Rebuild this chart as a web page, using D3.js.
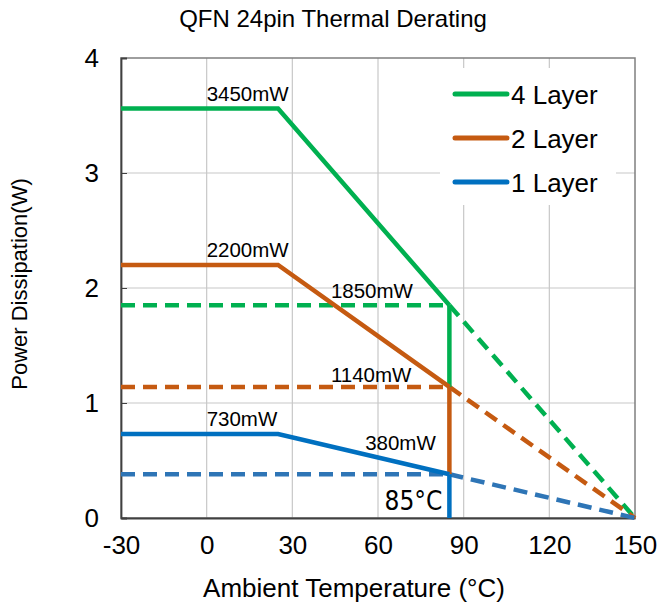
<!DOCTYPE html>
<html>
<head>
<meta charset="utf-8">
<script src="https://cdn.jsdelivr.net/npm/d3@7"></script>
<style>
  body { margin: 0; background: #fff; }
  text { font-family: "Liberation Sans", Arial, sans-serif; fill: #000; }
</style>
</head>
<body>
<div id="chart"></div>
<script>
// derating curves: temperature (C) -> power (W)
var layers = ["4 Layer", "2 Layer", "1 Layer"];
var colors = ["#00b050", "#c55a11", "#0070c0"];
var dashColors = ["#00b050", "#c55a11", "#2e75b6"];
var flatPower = [3.56, 2.2, 0.73];     // power below knee
var kneeTemp = 25;
var limitTemp = 85;
var limitPower = [1.85, 1.14, 0.38];   // power at 85C
var zeroTemp = 150;
var xTicks = [-30, 0, 30, 60, 90, 120, 150];
var yTicks = [0, 1, 2, 3, 4];
var flatLabels = ["3450mW", "2200mW", "730mW"];
var limitLabels = ["1850mW", "1140mW", "380mW"];

var svg = d3.select("#chart").append("svg")
    .attr("width", 663)
    .attr("height", 610);

var x = d3.scaleLinear().domain([-30, 150]).range([121, 635]);
var y = d3.scaleLinear().domain([0, 4]).range([518, 58]);

// grid
svg.append("g").selectAll("line")
    .data(xTicks.slice(1, -1)).enter().append("line")
    .attr("x1", d => x(d)).attr("x2", d => x(d))
    .attr("y1", y(0)).attr("y2", y(4))
    .attr("stroke", "#c8c8c8").attr("stroke-width", 1.2);
svg.append("g").selectAll("line")
    .data(yTicks.slice(1, -1)).enter().append("line")
    .attr("x1", x(-30)).attr("x2", x(150))
    .attr("y1", d => y(d)).attr("y2", d => y(d))
    .attr("stroke", "#c8c8c8").attr("stroke-width", 1.2);

// frame
svg.append("rect")
    .attr("x", x(-30)).attr("y", y(4))
    .attr("width", x(150) - x(-30)).attr("height", y(0) - y(4))
    .attr("fill", "none").attr("stroke", "#7f7f7f").attr("stroke-width", 1.5);

// axes
var xAxis = svg.append("g")
    .attr("transform", "translate(0," + y(0) + ")")
    .call(d3.axisBottom(x).tickValues(xTicks).tickFormat(d => String(d))
        .tickSize(0).tickPadding(18));
var yAxis = svg.append("g")
    .attr("transform", "translate(" + x(-30) + ",0)")
    .call(d3.axisLeft(y).tickValues(yTicks).tickFormat(d => String(d))
        .tickSize(-6).tickPadding(22));
[xAxis, yAxis].forEach(function(a) {
    a.select(".domain").attr("stroke", "#404040").attr("stroke-width", 1.8);
    a.selectAll(".tick line").attr("stroke", "#404040");
    a.selectAll("text").style("font-size", "26px")
        .style("font-family", "'Liberation Sans', Arial, sans-serif");
});

var line = d3.line().x(d => x(d[0])).y(d => y(d[1]));

layers.forEach(function(name, i) {
    // dashed guide at 85C level and dashed continuation to 150C
    svg.append("path")
        .attr("d", line([[-30, limitPower[i]], [limitTemp, limitPower[i]]]))
        .attr("fill", "none").attr("stroke", dashColors[i])
        .attr("stroke-width", 4.5).attr("stroke-dasharray", "14,8");
    svg.append("path")
        .attr("d", line([[limitTemp, limitPower[i]], [zeroTemp, 0]]))
        .attr("fill", "none").attr("stroke", dashColors[i])
        .attr("stroke-width", 4.5).attr("stroke-dasharray", "14,8");
});

layers.forEach(function(name, i) {
    // solid curve
    svg.append("path")
        .attr("d", line([[-30, flatPower[i]], [kneeTemp, flatPower[i]], [limitTemp, limitPower[i]]]))
        .attr("fill", "none").attr("stroke", colors[i])
        .attr("stroke-width", 4.5).attr("stroke-linejoin", "miter");
    // vertical drop at 85C
    var lower = i < layers.length - 1 ? limitPower[i + 1] : 0;
    svg.append("path")
        .attr("d", line([[limitTemp, limitPower[i]], [limitTemp, lower]]))
        .attr("fill", "none").attr("stroke", colors[i])
        .attr("stroke-width", 4.5);
});

// value labels
var labelStyle = function(t) { t.style("font-size", "20.5px"); };
flatLabels.forEach(function(t, i) {
    svg.append("text").attr("x", x(0)).attr("y", y(flatPower[i]) - 8)
        .text(t).call(labelStyle);
});
var limitLabelX = [43.5, 43.5, 55.5];
var limitLabelDy = [-7, -5, -24];
limitLabels.forEach(function(t, i) {
    svg.append("text").attr("x", x(limitLabelX[i])).attr("y", y(limitPower[i]) + limitLabelDy[i])
        .text(t).call(labelStyle);
});
svg.append("text").attr("x", x(limitTemp) - 7).attr("y", 510)
    .attr("text-anchor", "end").style("font-size", "26px")
    .style("font-family", "'DejaVu Sans Condensed', 'Liberation Sans Narrow', sans-serif")
    .style("font-weight", "300")
    .text("85°C");

// legend
var legend = svg.append("g");
legend.append("rect").attr("x", 440).attr("y", 68).attr("width", 176).attr("height", 137)
    .attr("fill", "#fff");
layers.forEach(function(name, i) {
    var ly = 94 + i * 44;
    legend.append("line").attr("x1", 455).attr("x2", 507).attr("y1", ly).attr("y2", ly)
        .attr("stroke", colors[i]).attr("stroke-width", 5).attr("stroke-linecap", "round");
    legend.append("text").attr("x", 511).attr("y", ly + 10).style("font-size", "26px").text(name);
});

// titles
svg.append("text").attr("x", 333).attr("y", 27).attr("text-anchor", "middle")
    .style("font-size", "24px").text("QFN 24pin Thermal Derating");
svg.append("text").attr("x", 354).attr("y", 597).attr("text-anchor", "middle")
    .style("font-size", "26px").text("Ambient Temperature (°C)");
svg.append("text").attr("transform", "translate(27,284) rotate(-90)")
    .attr("text-anchor", "middle").style("font-size", "22px").text("Power Dissipation(W)");
</script>
</body>
</html>
